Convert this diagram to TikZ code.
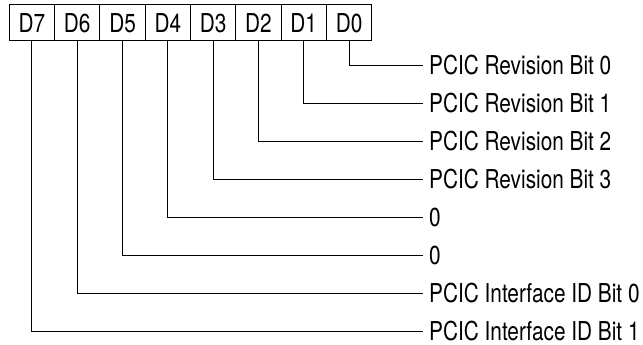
\documentclass[tikz,border=0pt]{standalone}
\usepackage{fontspec}
\setmainfont[FakeStretch=0.8]{TeX Gyre Heros}
\begin{document}
\begin{tikzpicture}[x=1pt,y=-1pt,
  bitbox/.style={draw,line width=1pt,rectangle,minimum width=45.3pt,minimum height=36pt,inner sep=0pt,
    font=\fontsize{26}{26}\selectfont,text height=18.6pt,text depth=0pt},
  lbl/.style={anchor=west,inner xsep=6pt,inner ysep=0pt,font=\fontsize{26}{26}\selectfont,text height=18.6pt,text depth=0pt},
  conn/.style={line width=1pt}]
\useasboundingbox (0,0) rectangle (643,345);
\foreach \i in {0,...,7}{
  \node[bitbox] (b\i) at ({349.05-45.3*\i},23) {D\i};
}
\node[lbl] (l0) at (423,65.5) {PCIC Revision Bit 0};
\node[lbl] (l1) at (423,103.5) {PCIC Revision Bit 1};
\node[lbl] (l2) at (423,141.5) {PCIC Revision Bit 2};
\node[lbl] (l3) at (423,179.5) {PCIC Revision Bit 3};
\node[lbl] (l4) at (423,217.5) {0};
\node[lbl] (l5) at (423,255.5) {0};
\node[lbl] (l6) at (423,293.5) {PCIC Interface ID Bit 0};
\node[lbl] (l7) at (423,331.5) {PCIC Interface ID Bit 1};
\foreach \i in {0,...,7}{
  \draw[conn] (b\i.south) |- (l\i.west);
}
\end{tikzpicture}
\end{document}
